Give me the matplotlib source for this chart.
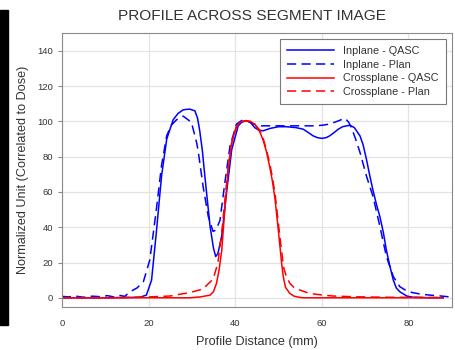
import matplotlib
matplotlib.use("Agg")
import matplotlib.pyplot as plt
from matplotlib.patches import Rectangle

plt.rcParams['font.family'] = ['Liberation Sans', 'DejaVu Sans']

# Inplane - QASC (solid blue)
in_qasc_x = [0, 10, 18, 19.5, 20.7, 21.8, 23, 24.2, 25.7, 26.8, 28, 29.5, 30.7, 31.3, 31.8,
             32.4, 33, 34.2, 35, 35.5, 36, 36.9, 38, 39.2, 40.7, 41.5, 42.5, 43.5, 44.5,
             45.5, 46.5, 48, 50, 51.8, 54, 55.7, 57, 58, 59, 60, 61, 61.8, 63, 63.8,
             64.8, 65.7, 66.5, 67.5, 68.8, 69.5, 70.3, 71, 71.8, 72.6, 73.4, 74.2, 74.9,
             75.7, 76.5, 77.2, 78, 79.6, 81, 85, 88]
in_qasc_y = [0, 0, 0.3, 1.5, 10, 37, 69, 90, 101, 104.5, 106.6, 107, 106, 102, 95,
             84, 69, 40.5, 28, 23.4, 25, 35, 59.6, 84, 97.5, 99.5, 100.5, 99.5, 96.5,
             95, 94.7, 96, 97, 97, 96.5, 95.6, 93.5, 91.8, 90.8, 90.4, 90.8, 91.8, 94, 95.6,
             97, 97.5, 97.8, 96.5, 91.8, 87, 78.5, 70, 61, 53, 46, 37, 27,
             18, 10, 5.5, 3.4, 1, 0.3, 0, 0]

# Inplane - Plan (dashed blue)
in_plan_x = [0, 1.5, 3, 5, 7, 9, 10.5, 12, 13.5, 14.5, 15.7, 17.3, 18.8, 20.3, 21.8, 23,
             24.2, 25.3, 26.5, 28, 29.9, 31.1, 31.5, 32.6, 33.8, 34.9, 35.6, 36.5, 37.6,
             38.8, 40.3, 41.8, 43, 44.2, 46, 50, 54, 58, 60, 61.8, 63.8, 65, 65.4, 66.2,
             66.9, 67.8, 68.8, 70.3, 71.8, 73.4, 74.9, 76.5, 78, 79.5, 81, 83, 85, 87.5,
             89.5, 90]
in_plan_y = [0.8, 0.5, 1.0, 0.3, 0.9, 0.6, 1.2, 0.5, 1.3, 0.8, 3.4, 5.5, 9, 21.5, 50, 75,
             92, 98, 101, 103, 99.5, 88, 82.5, 63, 46, 37.6, 38.5, 44, 65,
             86, 98.5, 101, 100, 98.5, 97.5, 97.5, 97.5, 97.5, 97.8, 98.5, 100.3, 101.5, 101.7, 99.5,
             96, 90, 82.5, 69, 57.6, 40.5, 23.4, 12, 6.3, 4, 2.9, 2, 1.5, 1,
             0.5, 0.4]

# Crossplane - QASC (solid red)
cross_qasc_x = [0, 29.5, 32, 34.2, 35, 35.7, 36.3, 36.9, 37.6, 38.4, 39.2, 40.3, 41.2, 42.2,
                43.5, 44.5, 45.7, 46.5, 47.2, 48, 48.6, 49.2, 49.8, 50.3, 50.7, 51.1, 51.6,
                52.6, 53.5, 54.9, 56, 88]
cross_qasc_y = [0, 0, 0.5, 1.5, 3.5, 8.3, 16, 27, 50, 73, 88, 97.5, 99.5, 100.3,
                100, 98.5, 94, 89, 83, 74, 66, 56, 42, 30, 20, 12, 6,
                2.5, 1, 0.2, 0, 0]

# Crossplane - Plan (dashed red)
cross_plan_x = [0, 10, 15, 20, 25, 27.2, 29.5, 31.1, 32.6, 33.8, 34.9, 36, 36.9, 37.6, 38.4,
                39.2, 40.3, 41.2, 42.2, 43.5, 44.5, 45.7, 46.5, 47.2, 48, 48.6, 49.2, 49.8,
                50.3, 50.8, 51.1, 51.8, 52.6, 53.5, 54.9, 56.5, 58, 60, 62.6, 67, 75, 88]
cross_plan_y = [0, 0, 0.2, 0.5, 1, 2, 2.9, 4, 5, 8, 10.5, 19.7, 37, 55, 74,
                88, 97, 99.5, 100.3, 100, 98.5, 95, 90, 84, 76, 68, 59, 46,
                35, 25, 18, 12, 8.3, 6, 4.4, 3, 2.2, 1.6, 1, 0.6, 0.3, 0.2]

fig = plt.figure(figsize=(4.55, 3.5), dpi=100)
ax = fig.add_axes([0.136, 0.124, 0.857, 0.781])

dash = (0, (6, 3.5))
ax.plot(in_qasc_x, in_qasc_y, color='#0000ff', lw=1.1, label='Inplane - QASC')
ax.plot(in_plan_x, in_plan_y, color='#0000ff', lw=1.1, ls=dash, label='Inplane - Plan')
ax.plot(cross_qasc_x, cross_qasc_y, color='#ff0000', lw=1.1, label='Crossplane - QASC')
ax.plot(cross_plan_x, cross_plan_y, color='#ff0000', lw=1.1, ls=dash, label='Crossplane - Plan')

ax.set_xlim(0, 90)
ax.set_ylim(-5, 150)
ax.set_xticks([0, 20, 40, 60, 80])
ax.set_yticks([0, 20, 40, 60, 80, 100, 120, 140])
ax.grid(True, color='#e3e3e3', lw=0.9)
ax.set_axisbelow(True)
for s in ax.spines.values():
    s.set_color('#8a8a8a')
    s.set_linewidth(0.8)
ax.tick_params(axis='both', labelsize=6.8, colors='#8a8a8a', labelcolor='#333333',
               length=3, width=0.8)
ax.tick_params(axis='x', length=0, pad=9)

ax.set_xlabel('Profile Distance (mm)', fontsize=9.1, color='#333333', labelpad=6)
ax.set_ylabel('Normalized Unit (Correlated to Dose)', fontsize=9.1, color='#333333', labelpad=6)
fig.text(0.554, 0.955, 'PROFILE ACROSS SEGMENT IMAGE', ha='center', va='center',
         fontsize=11.1, color='#333333')

leg = ax.legend(loc='upper right', fontsize=7.8, handlelength=4.3, fancybox=False,
                framealpha=1, edgecolor='#7a7a7a', borderaxespad=0.55,
                labelspacing=0.33, handletextpad=0.9, borderpad=0.65)
leg.get_frame().set_linewidth(0.8)
for t in leg.get_texts():
    t.set_color('#333333')

fig.patches.append(Rectangle((0, 0.071), 8 / 455, 0.9, transform=fig.transFigure,
                             color='black', zorder=5))

fig.savefig('out.png', dpi=100)
